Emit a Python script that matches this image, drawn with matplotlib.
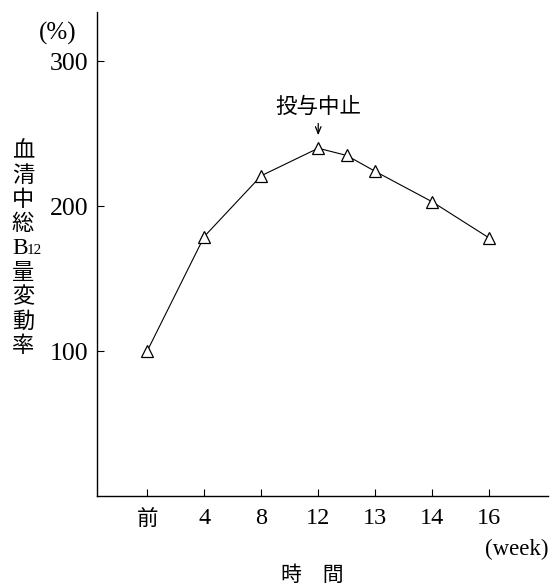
import matplotlib
matplotlib.use("Agg")
import matplotlib.pyplot as plt

# data
categories = ["前", "4", "8", "12", "13", "14", "16"]
cat_pos = [0, 1, 2, 3, 4, 5, 6]
point_pos = [0, 1, 2, 3, 3.5, 4, 5, 6]
values = [100, 179, 221, 240, 235, 224, 203, 178]
y_ticks = [100, 200, 300]

SERIF = ["Liberation Serif", "Noto Sans CJK JP"]
CJK = ["Noto Sans CJK JP", "DejaVu Sans"]

fig = plt.figure(figsize=(5.58, 5.86), dpi=100)
ax = fig.add_axes([97/558, 1-496/586, (548-97)/558, (496-12)/586])

ax.plot(point_pos, values, color="black", lw=0.8, marker="^", ms=9,
        mfc="white", mec="black", mew=0.9)

ax.set_xlim(-0.88, 7.03)
ax.set_ylim(0, 334)
ax.spines["top"].set_visible(False)
ax.spines["right"].set_visible(False)
for s in ("left", "bottom"):
    ax.spines[s].set_linewidth(1.0)

ax.set_yticks(y_ticks)
ax.set_yticklabels([str(v) for v in y_ticks], family=SERIF, fontsize=18.5)
ax.set_xticks(cat_pos)
ax.set_xticklabels(categories, fontsize=17.5)
for lab in ax.get_xticklabels():
    lab.set_family(CJK if lab.get_text() == "前" else SERIF)
    if lab.get_text() == "前":
        lab.set_fontsize(15.5)
ax.tick_params(axis="both", direction="in", length=5, width=0.8)
ax.tick_params(axis="y", pad=6)
ax.tick_params(axis="x", pad=9)

# annotation
ax.annotate("", xy=(3, 247), xytext=(3, 259),
            arrowprops=dict(arrowstyle="->,head_length=0.5,head_width=0.2",
                            lw=0.9, color="black"))
ax.text(3, 261, "投与中止", family=CJK, fontsize=15.5, ha="center", va="bottom")

# units
fig.text(58/558, 1-33/586, "(%)", family=SERIF, fontsize=18, ha="center", va="center")
fig.text(548/558, 1-549/586, "(week)", family=SERIF, fontsize=16.5, ha="right", va="center")
fig.text(312/558, 1-575/586, "時　間", family=CJK, fontsize=15, ha="center", va="center")

# vertical y label
chars = ["血", "清", "中", "総", "B", "量", "変", "動", "率"]
y0, step = 151, 24.3
for i, c in enumerate(chars):
    yy = 1 - (y0 + i*step)/586
    if c == "B":
        fig.text(20/558, yy, "B", family=SERIF, fontsize=17, ha="center", va="center")
        fig.text(34/558, yy - 2/586, "12", family=SERIF, fontsize=11, ha="center", va="center")
    else:
        fig.text(23/558, yy, c, family=CJK, fontsize=16, ha="center", va="center")

fig.savefig("out.png", dpi=100)
